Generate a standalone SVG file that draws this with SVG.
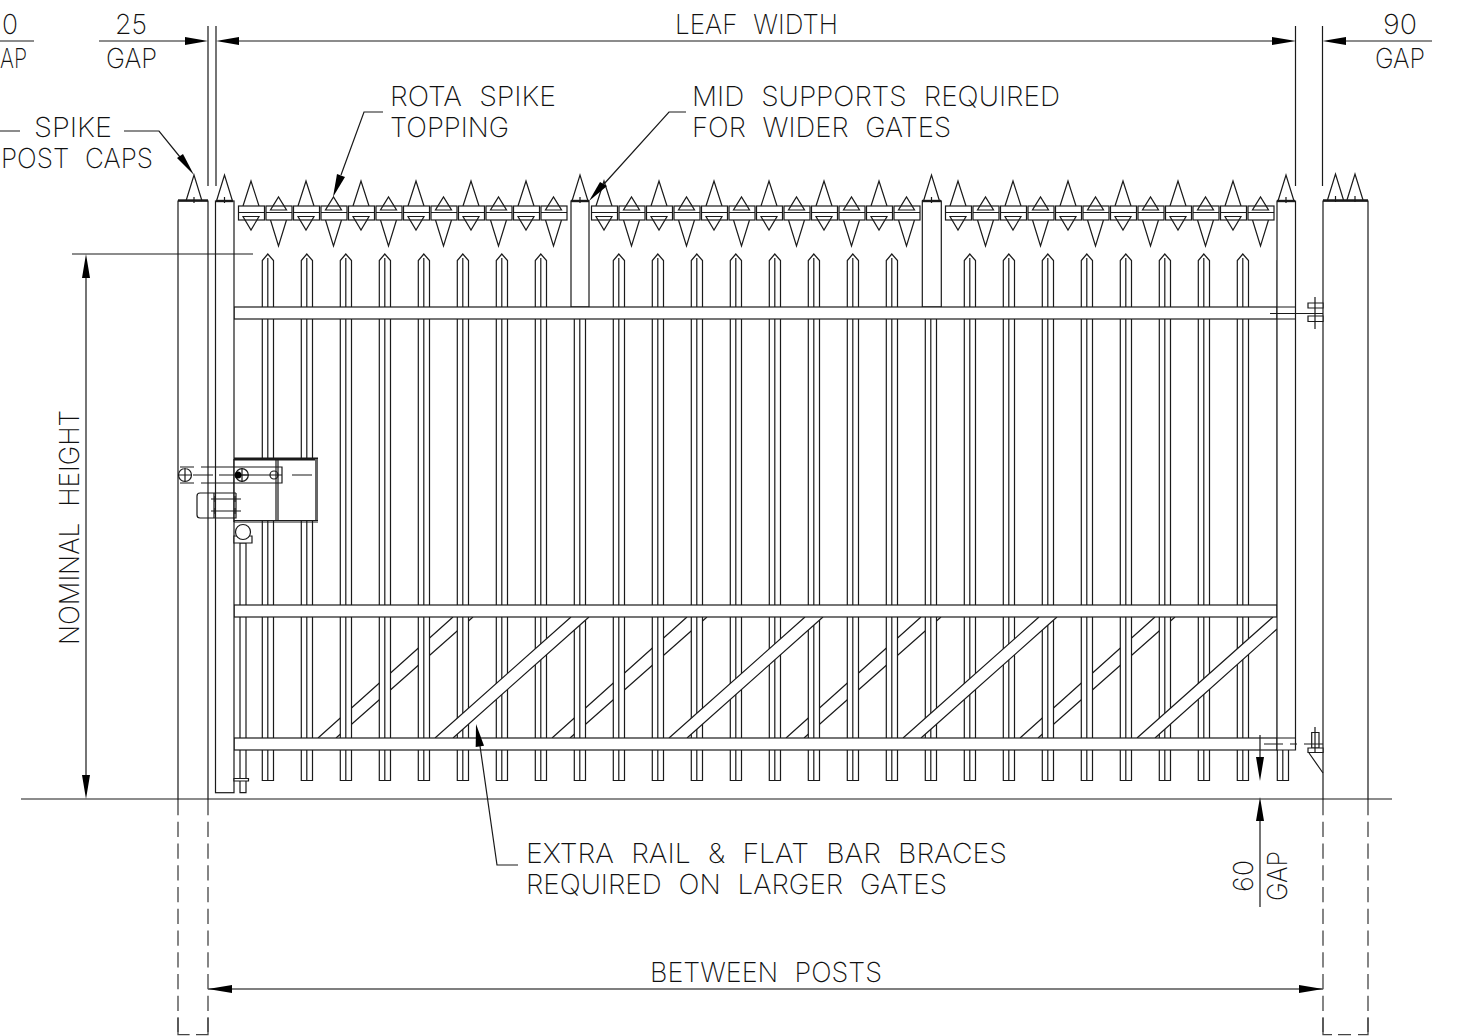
<svg xmlns="http://www.w3.org/2000/svg" xmlns:xlink="http://www.w3.org/1999/xlink" width="1460" height="1036" viewBox="0 0 1460 1036">
<style>
.l{fill:none;stroke:#1a1a1a;stroke-width:1.2}
.w{fill:#fff;stroke:#1a1a1a;stroke-width:1.2}
.o{fill:#fff;stroke:none}
.h{fill:none;stroke:#1a1a1a;stroke-width:2.4}
.a{fill:#000;stroke:none}
.d{fill:none;stroke:#444;stroke-width:1.3;stroke-dasharray:15.3 6.45}
.c{fill:none;stroke:#444;stroke-width:1.3}
text{font-family:"Inter","Liberation Sans",sans-serif;font-weight:200;font-size:27.5px;fill:#111;word-spacing:9px}
</style>
<defs>
<g id="picket"><path class="w" d="M.3 780.5V260.5L5.8 254L11.5 260.5V780.5Z"/><path class="l" d="M5.8 258V780"/></g>
<g id="unitA"><path class="l" d="M5 206L13 181L21 206"/><rect class="w" x=".5" y="206" width="26" height="14"/><path class="l" d="M.5 212.5H26.5M5 216.5H21L13 230Z"/></g>
<g id="unitB"><path class="l" d="M5 220L13 246L21 220"/><rect class="w" x=".5" y="206" width="26" height="14"/><path class="l" d="M.5 212.5H26.5M5 210H21L13 197Z"/></g>
<path id="spike" class="l" d="M-8 201L0 175L8 201M0 197V203"/>
</defs>

<g id="braces-behind">
<path class="l" d="M318 738L453 617M336 738L473 617M552 738L687 617M570 738L707 617M786 738L921 617M804 738L941 617M1020 738L1155 617M1038 738L1175 617"/>
</g>

<g id="pickets">
<use xlink:href="#picket" href="#picket" x="262"/><use xlink:href="#picket" href="#picket" x="301"/><use xlink:href="#picket" href="#picket" x="340"/><use xlink:href="#picket" href="#picket" x="379"/><use xlink:href="#picket" href="#picket" x="418"/><use xlink:href="#picket" href="#picket" x="457"/><use xlink:href="#picket" href="#picket" x="496"/><use xlink:href="#picket" href="#picket" x="535"/><use xlink:href="#picket" href="#picket" x="574"/><use xlink:href="#picket" href="#picket" x="613"/><use xlink:href="#picket" href="#picket" x="652"/><use xlink:href="#picket" href="#picket" x="691"/><use xlink:href="#picket" href="#picket" x="730"/><use xlink:href="#picket" href="#picket" x="769"/><use xlink:href="#picket" href="#picket" x="808"/><use xlink:href="#picket" href="#picket" x="847"/><use xlink:href="#picket" href="#picket" x="886"/><use xlink:href="#picket" href="#picket" x="925"/><use xlink:href="#picket" href="#picket" x="964"/><use xlink:href="#picket" href="#picket" x="1003"/><use xlink:href="#picket" href="#picket" x="1042"/><use xlink:href="#picket" href="#picket" x="1081"/><use xlink:href="#picket" href="#picket" x="1120"/><use xlink:href="#picket" href="#picket" x="1159"/><use xlink:href="#picket" href="#picket" x="1198"/><use xlink:href="#picket" href="#picket" x="1237"/>
<use xlink:href="#picket" href="#picket" x="1277"/>
<path class="w" d="M240 543V792.7H246V543Z"/>
</g>

<g id="braces-front">
<path class="o" d="M435 738L571 617H589L453 738ZM669 738L805 617H823L687 738ZM903 738L1039 617H1057L921 738ZM1137 738L1273 617H1277V629L1155 738Z"/>
<path class="l" d="M435 738L571 617M453 738L589 617M669 738L805 617M687 738L823 617M903 738L1039 617M921 738L1057 617M1137 738L1273 617M1155 738L1277 629"/>
</g>

<g id="mid-supports">
<rect class="w" x="571" y="201" width="18" height="106"/><use xlink:href="#spike" href="#spike" x="580"/><path class="h" d="M571 201H589"/>
<rect class="w" x="922.3" y="201" width="19" height="106"/><use xlink:href="#spike" href="#spike" x="931.5"/><path class="h" d="M922 201H941"/>
</g>

<g id="rails">
<rect class="w" x="234" y="307" width="1043" height="12"/>
<rect class="w" x="234" y="605" width="1043" height="12"/>
<rect class="w" x="234" y="738" width="1043" height="12"/>
</g>

<g id="right-stile">
<path class="w" d="M1277 201H1295.5V750H1277Z"/>
<use xlink:href="#spike" href="#spike" x="1286"/><path class="h" d="M1277 201H1295"/>
<path class="l" d="M1277 307H1295.5M1277 319H1295.5M1277 738H1295.5"/>
</g>

<g id="left-stile">
<rect class="w" x="215.5" y="201" width="18.5" height="591.7"/>
<use xlink:href="#spike" href="#spike" x="224.5"/><path class="h" d="M216 201H233"/>
<path class="w" d="M234 778.5H248.5V781H234Z"/>
</g>

<g id="left-post">
<path class="l" d="M178 800V201H208V800"/>
<use xlink:href="#spike" href="#spike" x="194"/><path class="h" d="M178 200.5H208"/>
<path class="d" d="M178 800V1032M208 800V1032"/>
<path class="c" d="M178 1017.5V1034.7H189.6M196 1034.7H208V1017.5"/>
</g>

<g id="right-post">
<path class="l" d="M1323 800V201H1368V800"/>
<use xlink:href="#spike" href="#spike" x="1335.5" y="-1"/><use xlink:href="#spike" href="#spike" x="1355" y="-1"/><path class="h" d="M1323 200.5H1368"/>
<path class="d" d="M1323 800V1032M1368 800V1032"/>
<path class="c" d="M1323 1017.5V1034.7H1332M1338 1034.7H1351M1358 1034.7H1368V1017.5"/>
</g>

<g id="topping">
<use xlink:href="#unitA" href="#unitA" x="238"/><use xlink:href="#unitB" href="#unitB" x="265.5"/><use xlink:href="#unitA" href="#unitA" x="293"/><use xlink:href="#unitB" href="#unitB" x="320.5"/><use xlink:href="#unitA" href="#unitA" x="348"/><use xlink:href="#unitB" href="#unitB" x="375.5"/><use xlink:href="#unitA" href="#unitA" x="403"/><use xlink:href="#unitB" href="#unitB" x="430.5"/><use xlink:href="#unitA" href="#unitA" x="458"/><use xlink:href="#unitB" href="#unitB" x="485.5"/><use xlink:href="#unitA" href="#unitA" x="513"/><use xlink:href="#unitB" href="#unitB" x="540.5"/>
<use xlink:href="#unitA" href="#unitA" x="591"/><use xlink:href="#unitB" href="#unitB" x="618.5"/><use xlink:href="#unitA" href="#unitA" x="646"/><use xlink:href="#unitB" href="#unitB" x="673.5"/><use xlink:href="#unitA" href="#unitA" x="701"/><use xlink:href="#unitB" href="#unitB" x="728.5"/><use xlink:href="#unitA" href="#unitA" x="756"/><use xlink:href="#unitB" href="#unitB" x="783.5"/><use xlink:href="#unitA" href="#unitA" x="811"/><use xlink:href="#unitB" href="#unitB" x="838.5"/><use xlink:href="#unitA" href="#unitA" x="866"/><use xlink:href="#unitB" href="#unitB" x="893.5"/>
<use xlink:href="#unitA" href="#unitA" x="945"/><use xlink:href="#unitB" href="#unitB" x="972.5"/><use xlink:href="#unitA" href="#unitA" x="1000"/><use xlink:href="#unitB" href="#unitB" x="1027.5"/><use xlink:href="#unitA" href="#unitA" x="1055"/><use xlink:href="#unitB" href="#unitB" x="1082.5"/><use xlink:href="#unitA" href="#unitA" x="1110"/><use xlink:href="#unitB" href="#unitB" x="1137.5"/><use xlink:href="#unitA" href="#unitA" x="1165"/><use xlink:href="#unitB" href="#unitB" x="1192.5"/><use xlink:href="#unitA" href="#unitA" x="1220"/><use xlink:href="#unitB" href="#unitB" x="1247.5"/>
</g>

<g id="latch">
<rect class="o" x="234.5" y="459" width="83" height="62"/>
<path class="l" d="M234 459H318" style="stroke-width:3"/>
<path class="l" d="M316.5 459V521" style="stroke:#666;stroke-width:3"/>
<path class="l" d="M234 520.5H318M234 522H318M276 459V521M278 459V521"/>
<path class="l" d="M201 467H282V483H201M282 467V483M180 467H194M180 483H194M193 475H213M219 475H282M292 475H312"/>
<path class="l" d="M185 468.5A6.5 6.5 0 1 0 185 481.5A6.5 6.5 0 1 0 185 468.5ZM185 468V482M179 475H191"/>
<circle class="l" cx="242" cy="475" r="6.3"/><path class="l" d="M242 468V482M235 475H249"/>
<circle class="a" cx="238" cy="475" r="3.5"/>
<circle class="l" cx="274" cy="475" r="4"/>
<path class="l" d="M236 493H200Q197 493 197 496V515Q197 518 200 518H236V493M214 493V518"/>
<path class="l" d="M211 499H241M211 511H241M215 496V502M215 508V514M235 496V502M235 508V514"/>
<path class="w" d="M234 536H252V543H234Z"/>
<circle class="w" cx="243" cy="532" r="7.5"/>
<path class="l" d="M234 459V522"/>
</g>

<g id="hardware">
<path class="w" d="M1308 303H1323V308H1308ZM1308 316H1323V321.5H1308Z"/>
<path class="l" d="M1270 313.5H1323M1315 297V329"/>
<path class="w" d="M1311.7 732.5H1319V748H1311.7Z"/>
<path class="w" d="M1308 748H1323V752.5H1308Z"/>
<path class="l" d="M1315 727V752M1309 753L1323 773M1264 744H1283M1290 744H1297M1304 744H1323"/>
</g>

<g id="connectors">
<path class="l" d="M21 799H1392"/>
<path class="l" d="M208 26V186M216 26V186M1295.5 26V186M1322.5 26V186"/>
<path class="l" d="M0 41H34M99 41H186M238 41H1273M1345 41H1432"/>
<path class="a" d="M208 41L185 37V45ZM216 41L239 37V45ZM1296 41L1272 37V45ZM1322.5 41L1346 37V45Z"/>
<path class="l" d="M72 254H253M86 277V776"/>
<path class="a" d="M86 254L82 278H90ZM86 799L82 775H90Z"/>
<path class="l" d="M208 989H1323" style="stroke:#555;stroke-width:1.5"/>
<path class="a" d="M208 989L232 985V993ZM1323 989L1299 985V993Z"/>
<path class="l" d="M1260 735V760M1260 820V907"/>
<path class="a" d="M1260 781L1256 757H1264ZM1260 797L1256 821H1264Z"/>
<path class="l" d="M0 131H20M124 131H159L180 157"/>
<path class="a" d="M194 175L177 158L183 154Z"/>
<path class="l" d="M383 112H364L341 175"/>
<path class="a" d="M333 197L337 174L345 177Z"/>
<path class="l" d="M686 112H669L604 184"/>
<path class="a" d="M589 201L600 182L607 186Z"/>
<path class="l" d="M518 865H497L480 746"/>
<path class="a" d="M476 724L475.7 747L484 745.7Z"/>
</g>

<g id="labels">
<text x="2" y="34" textLength="16" lengthAdjust="spacingAndGlyphs">0</text>
<text x="0" y="68" textLength="27" lengthAdjust="spacingAndGlyphs">AP</text>
<text x="115" y="34" textLength="32" lengthAdjust="spacingAndGlyphs">25</text>
<text x="106" y="68" textLength="51" lengthAdjust="spacingAndGlyphs">GAP</text>
<text x="675" y="34" textLength="163" lengthAdjust="spacingAndGlyphs">LEAF WIDTH</text>
<text x="1383" y="34" textLength="34" lengthAdjust="spacingAndGlyphs">90</text>
<text x="1375" y="68" textLength="50" lengthAdjust="spacingAndGlyphs">GAP</text>
<text x="34" y="137" textLength="78" lengthAdjust="spacingAndGlyphs">SPIKE</text>
<text x="1" y="168" textLength="152" lengthAdjust="spacingAndGlyphs">POST CAPS</text>
<text x="390" y="106" textLength="166" lengthAdjust="spacingAndGlyphs">ROTA SPIKE</text>
<text x="390" y="137" textLength="119" lengthAdjust="spacingAndGlyphs">TOPPING</text>
<text x="692" y="106" textLength="368" lengthAdjust="spacingAndGlyphs">MID SUPPORTS REQUIRED</text>
<text x="692" y="137" textLength="259" lengthAdjust="spacingAndGlyphs">FOR WIDER GATES</text>
<text x="526" y="863" textLength="481" lengthAdjust="spacingAndGlyphs">EXTRA RAIL &amp; FLAT BAR BRACES</text>
<text x="526" y="894" textLength="421" lengthAdjust="spacingAndGlyphs">REQUIRED ON LARGER GATES</text>
<text x="650" y="982" textLength="232" lengthAdjust="spacingAndGlyphs">BETWEEN POSTS</text>
<text transform="translate(79 645) rotate(-90)" textLength="235" lengthAdjust="spacingAndGlyphs">NOMINAL HEIGHT</text>
<text transform="translate(1253 892) rotate(-90)" textLength="32" lengthAdjust="spacingAndGlyphs">60</text>
<text transform="translate(1287 901) rotate(-90)" textLength="50" lengthAdjust="spacingAndGlyphs">GAP</text>
</g>
</svg>
